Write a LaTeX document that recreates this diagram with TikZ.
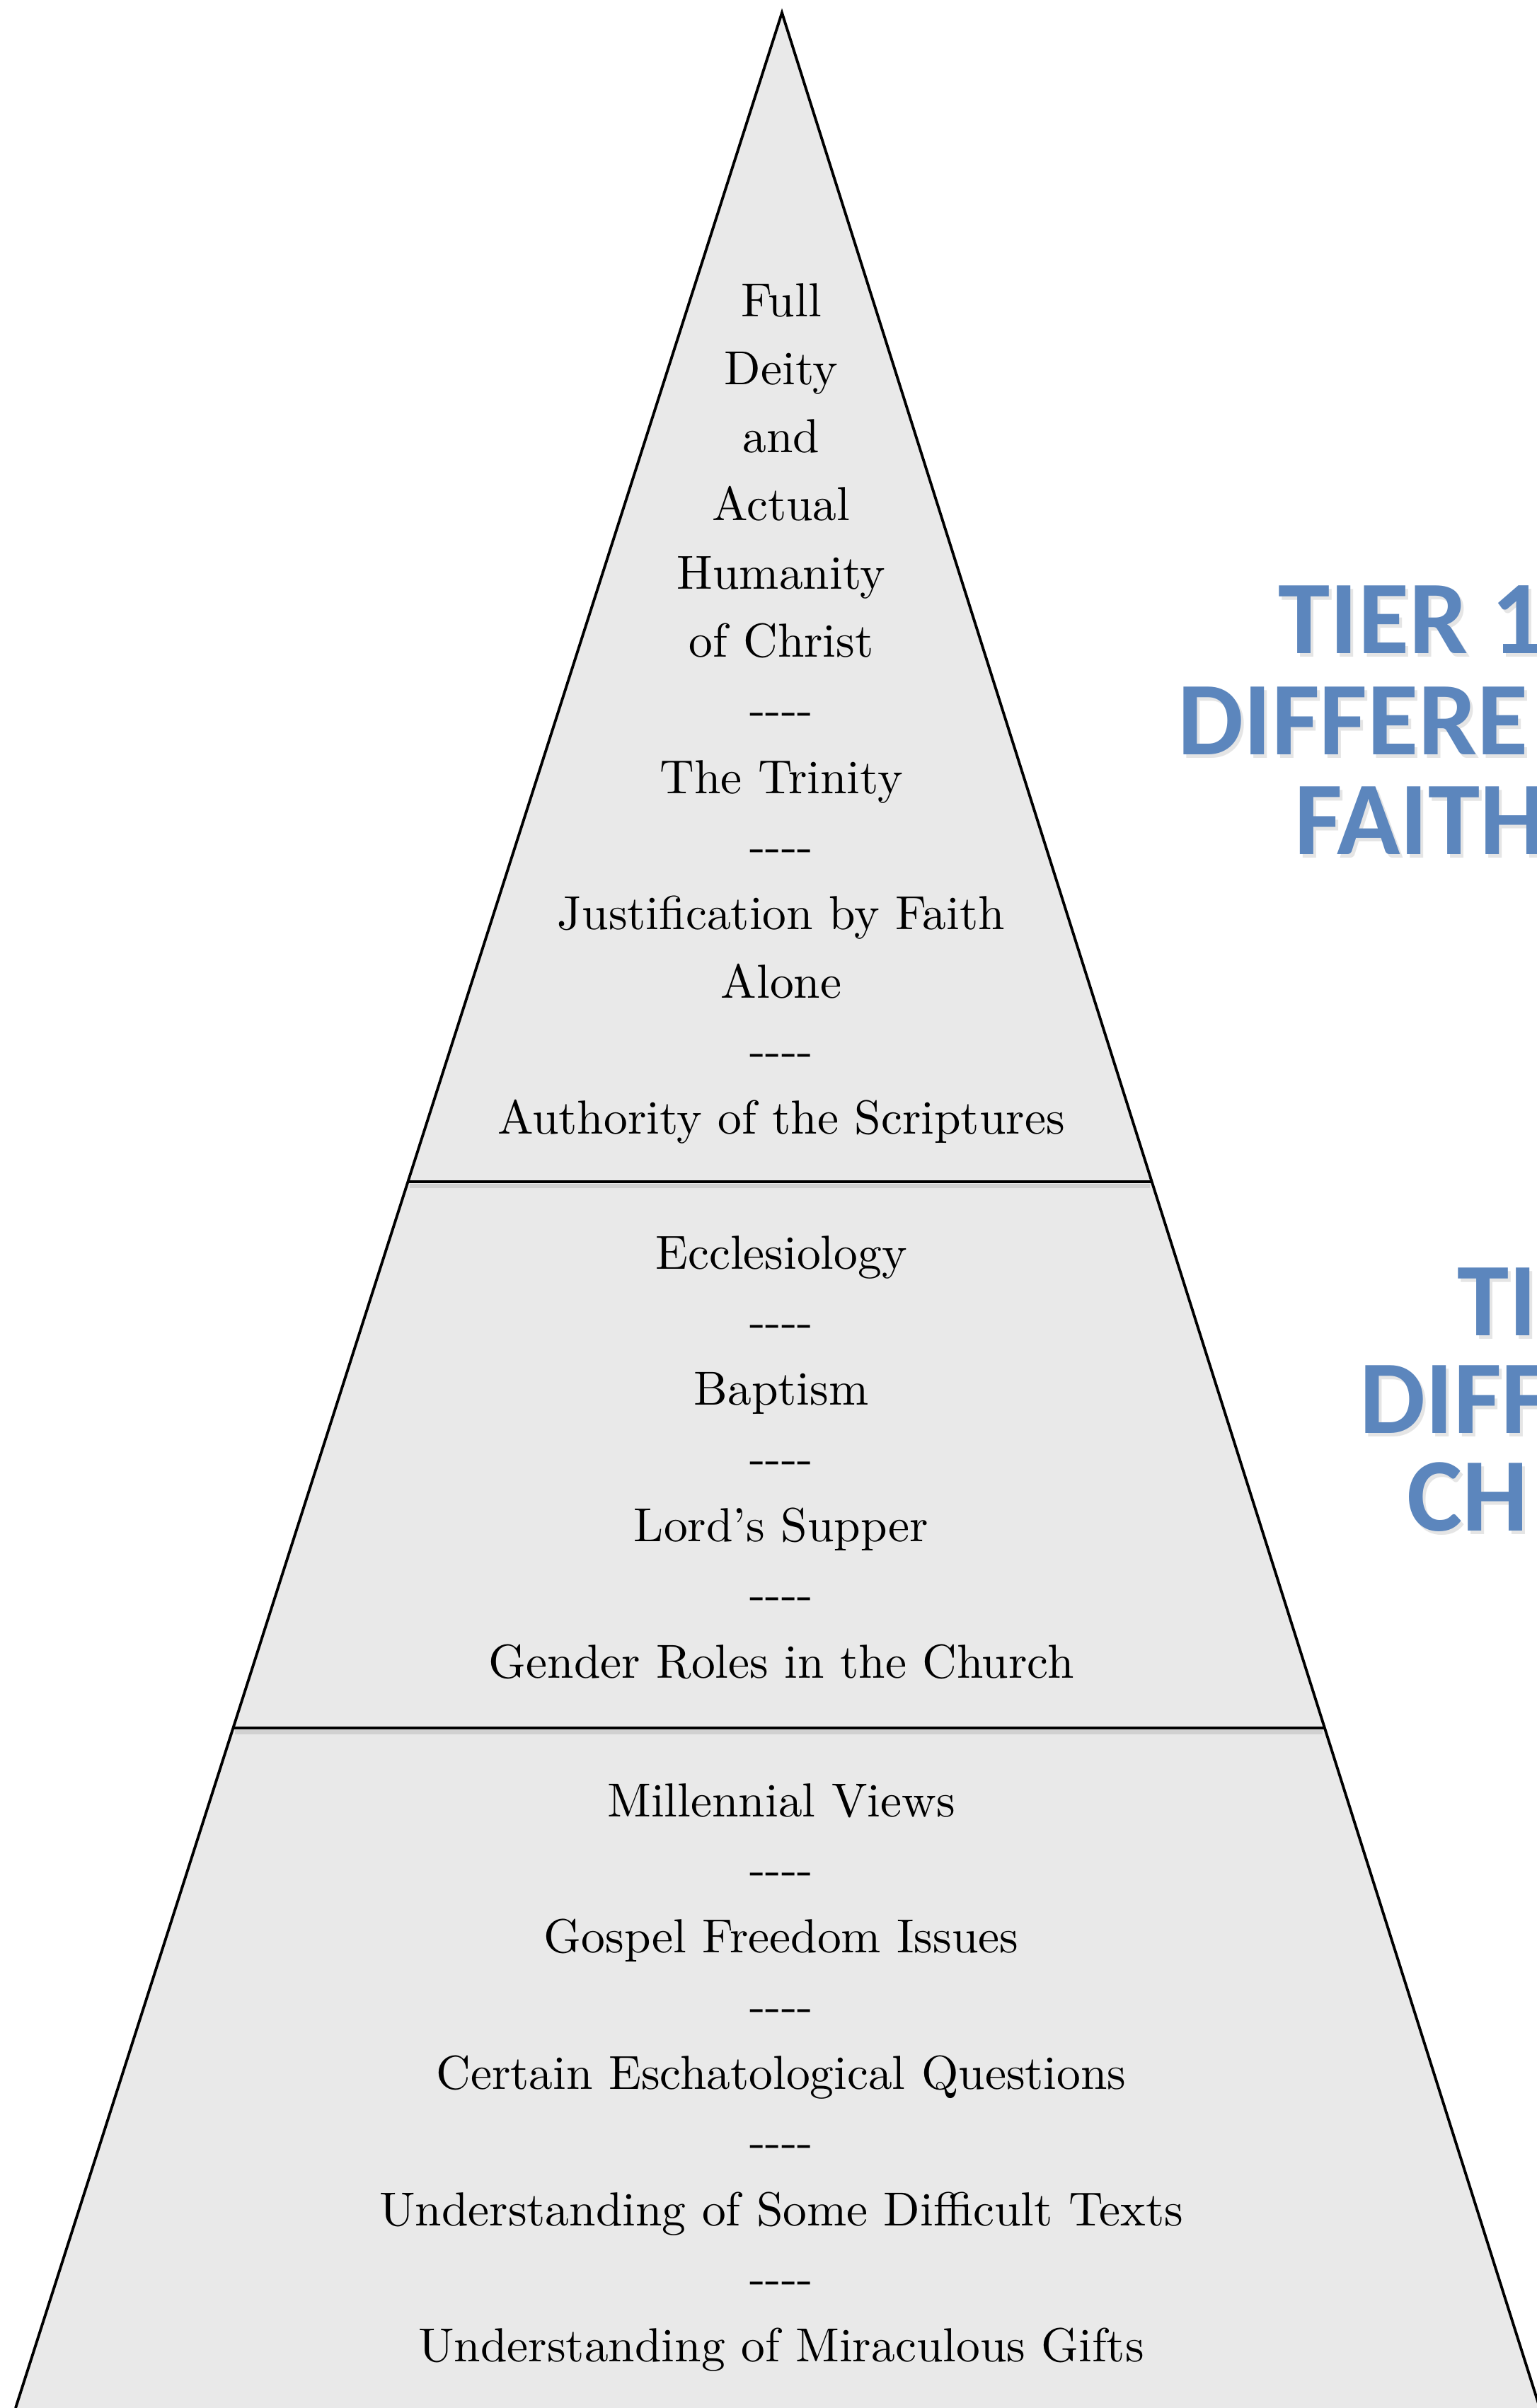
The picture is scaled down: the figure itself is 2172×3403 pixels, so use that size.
\documentclass[tikz,border=0pt]{standalone}
\usepackage{fontspec}
\newfontfamily\tierfont{Carlito}
\newfontfamily\itemfont{lmroman10-regular.otf}[Ligatures=TeX]
\usetikzlibrary{calc}

\definecolor{tierblue}{RGB}{92,134,189}
\definecolor{tierfill}{RGB}{233,233,233}
\newcommand{\tiersep}{-{}-{}-{}-}

\tikzset{
  item/.style={anchor=base, inner sep=0pt, font=\itemfont\fontsize{19.2}{27.4}\selectfont},
  tierlabel/.style={anchor=base west, inner sep=0pt, text=tierblue,
    font=\tierfont\bfseries\fontsize{42}{40}\selectfont},
  tiershadow/.style={tierlabel, text=black!10},
  divider/.style={line width=1.3pt},
}

\begin{document}
\begin{tikzpicture}[x=0.1mm, y=-0.1mm]
  \useasboundingbox (0,0) rectangle (2172,3403);
  \clip (0,0) rectangle (2172,3403);
  \fill[white] (0,0) rectangle (2172,3403);

  % the pyramid
  \coordinate (apex) at (1105,18);
  \coordinate (bl) at (22,3403);
  \coordinate (br) at (2176,3403);
  \filldraw[fill=tierfill, line width=1.1pt] (bl) -- (apex) -- (br);

  % borders between the tiers
  \coordinate (a1) at ($(apex)!0.48804!(bl)$);
  \coordinate (b1) at ($(apex)!0.48804!(br)$);
  \coordinate (a2) at ($(apex)!0.71610!(bl)$);
  \coordinate (b2) at ($(apex)!0.71610!(br)$);
  \draw[black!18, line width=1.6pt] ($(a1)+(3,6)$) -- ($(b1)+(-3,6)$);
  \draw[black!18, line width=1.6pt] ($(a2)+(3,6)$) -- ($(b2)+(-3,6)$);
  \draw[divider] (a1) -- (b1);
  \draw[divider] (a2) -- (b2);

  % tier 1
  \foreach \txt [count=\i] in {Full, Deity, and, Actual, Humanity, of Christ,
      \tiersep, The Trinity, \tiersep, Justification by Faith, Alone,
      \tiersep, Authority of the Scriptures}
    \node[item] (one-\i) at (1104,{447+(\i-1)*96.33}) {\txt};

  % tier 2
  \foreach \txt [count=\i] in {Ecclesiology, \tiersep, Baptism, \tiersep,
      Lord’s Supper, \tiersep, Gender Roles in the Church}
    \node[item] (two-\i) at (1104,{1793+(\i-1)*96.33}) {\txt};

  % tier 3
  \foreach \txt [count=\i] in {Millennial Views, \tiersep, Gospel Freedom Issues,
      \tiersep, Certain Eschatological Questions, \tiersep,
      Understanding of Some Difficult Texts, \tiersep,
      Understanding of Miraculous Gifts}
    \node[item] (three-\i) at (1104,{2567+(\i-1)*96.33}) {\txt};

  % labels on the right, with a faint shadow
  \node[tiershadow] at (1810,928) {TIER 1};
  \node[tiershadow] at (1668,1071) {DIFFERE};
  \node[tiershadow] at (1833,1212) {FAITH};
  \node[tiershadow] at (2063,1892) {TI};
  \node[tiershadow] at (1925,2030) {DIFF};
  \node[tiershadow] at (1992,2168) {CH};
  \node[tierlabel] (tier1a) at (1806,923) {TIER 1};
  \node[tierlabel] (tier1b) at (1664,1066) {DIFFERE};
  \node[tierlabel] (tier1c) at (1829,1207) {FAITH};
  \node[tierlabel] (tier2a) at (2059,1887) {TI};
  \node[tierlabel] (tier2b) at (1921,2025) {DIFF};
  \node[tierlabel] (tier2c) at (1988,2163) {CH};
\end{tikzpicture}
\end{document}
